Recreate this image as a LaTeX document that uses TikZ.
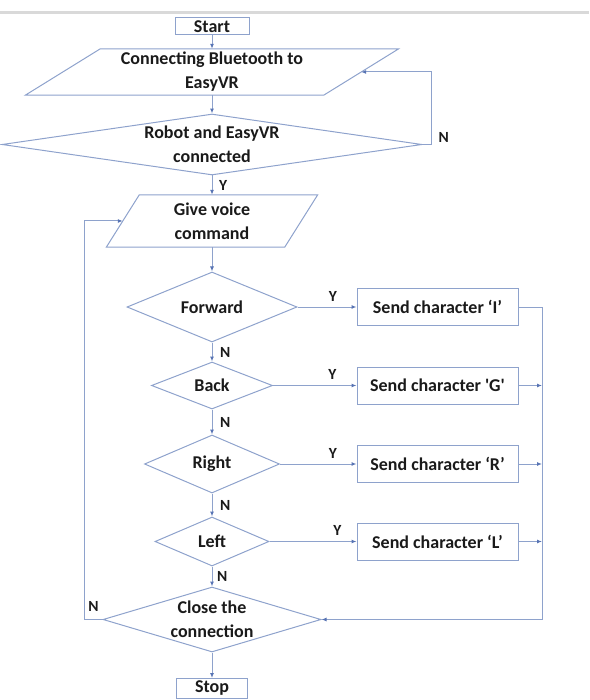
\documentclass[tikz,border=0pt]{standalone}
\usepackage{fontspec}
\setmainfont{Carlito}
\usepackage{xcolor}
\definecolor{vcline}{HTML}{8EA2CC}
\definecolor{vctip}{HTML}{5874B4}
\definecolor{vcrule}{HTML}{D9D9D9}
\definecolor{vctext}{HTML}{1A1A1A}
\usepackage{tikz}
\usetikzlibrary{arrows.meta,shapes.geometric,calc}
\newcommand{\vcfont}{\fontsize{18}{24}\selectfont\bfseries}
\newcommand{\vclabfont}{\fontsize{15.5}{17}\selectfont\bfseries}
\tikzset{
  vcbox/.style={draw=vcline,line width=1pt,inner sep=0pt,align=center,font=\vcfont,text=vctext},
  vcio/.style={inner sep=0pt,align=center,font=\vcfont,text=vctext},
  vcdec/.style={diamond,draw=vcline,line width=1pt,inner xsep=0pt,inner ysep=-3pt,align=center,font=\vcfont,text=vctext},
  vcedge/.style={draw=vcline,line width=1pt},
  vcflow/.style={draw=vcline,line width=1pt,-{Latex[length=5pt,width=4pt,color=vctip]}},
  vclabel/.style={font=\vclabfont,text=vctext,inner sep=1.5pt},
}

\begin{document}
\begin{tikzpicture}[x=1pt,y=-1pt]
  % voice control flow of the robot
\useasboundingbox (0,0) rectangle (589,700);
\draw[vcrule,line width=3pt] (0,13) -- (589,13);
\node[vcbox,minimum width=74,minimum height=17] (start) at (212,26.5) {Start};
\node[vcio,minimum width=298,minimum height=46] (conn) at (212,72) {Connecting Bluetooth to\\EasyVR};
\draw[vcedge] ([xshift=-37.5]conn.south west) -- ([xshift=37.5]conn.north west) -- ([xshift=37.5]conn.north east) -- ([xshift=-37.5]conn.south east) -- cycle;
\node[vcdec,aspect=6.9,minimum width=420,minimum height=61] (rc) at (212,144.5) {Robot and EasyVR\\connected};
\node[vcio,minimum width=178,minimum height=52] (voice) at (212,221) {Give voice\\command};
\draw[vcedge] ([xshift=-16.5]voice.south west) -- ([xshift=16.5]voice.north west) -- ([xshift=16.5]voice.north east) -- ([xshift=-16.5]voice.south east) -- cycle;
\node[vcdec,aspect=2.43,minimum width=170,minimum height=70] (dfwd) at (212,307) {Forward};
\node[vcdec,aspect=2.57,minimum width=121,minimum height=47] (dback) at (212,385.5) {Back};
\node[vcdec,aspect=2.33,minimum width=135,minimum height=58] (dright) at (212,464) {Right};
\node[vcdec,aspect=2.33,minimum width=114,minimum height=49] (dleft) at (212,541.5) {Left};
\node[vcdec,aspect=3.35,minimum width=218,minimum height=65] (close) at (212,619.5) {Close the\\connection};
\node[vcbox,minimum width=71,minimum height=20] (stop) at (212,688.5) {Stop};
\node[vcbox,minimum width=161,minimum height=37] (sendI) at (437.5,307) {Send character ‘I’};
\node[vcbox,minimum width=161,minimum height=37] (sendG) at (437.5,385.5) {Send character \textquotesingle G\textquotesingle};
\node[vcbox,minimum width=161,minimum height=37] (sendR) at (437.5,464) {Send character ‘R’};
\node[vcbox,minimum width=161,minimum height=37] (sendL) at (437.5,541.5) {Send character ‘L’};
\coordinate (bus) at (542,619.5);
\draw[vcflow] (start) -- (conn);
\draw[vcflow] (conn) -- (rc);
\draw[vcflow] (rc.east) -- ++(9,0) node[vclabel,above right,xshift=5pt]{N} |- (conn.east);
\draw[vcflow] (rc) -- node[vclabel,right,xshift=5pt]{Y} (voice);
\draw[vcflow] (voice) -- (dfwd);
\draw[vcflow] (dfwd) -- node[vclabel,right,xshift=6pt]{N} (dback);
\draw[vcflow] (dback) -- node[vclabel,right,xshift=6pt]{N} (dright);
\draw[vcflow] (dright) -- node[vclabel,right,xshift=6pt]{N} (dleft);
\draw[vcflow] (dleft) -- node[vclabel,right,xshift=3pt]{N} (close);
\draw[vcflow] (close) -- (stop);
\draw[vcflow] (dfwd) -- node[vclabel,above,pos=0.6,yshift=4pt]{Y} (sendI);
\draw[vcflow] (dback) -- node[vclabel,above,pos=0.71,yshift=4pt]{Y} (sendG);
\draw[vcflow] (dright) -- node[vclabel,above,pos=0.69,yshift=4pt]{Y} (sendR);
\draw[vcflow] (dleft) -- node[vclabel,above,pos=0.78,yshift=4pt]{Y} (sendL);
\draw[vcflow] (sendI.east) -| (bus) -- (close.east);
\draw[vcflow] (sendG.east) -- (sendG.east -| bus);
\draw[vcflow] (sendR.east) -- (sendR.east -| bus);
\draw[vcflow] (sendL.east) -- (sendL.east -| bus);
\draw[vcflow] (close.west) -- node[vclabel,above,yshift=6pt]{N} ++(-18,0) |- (voice.west);
\end{tikzpicture}
\end{document}
